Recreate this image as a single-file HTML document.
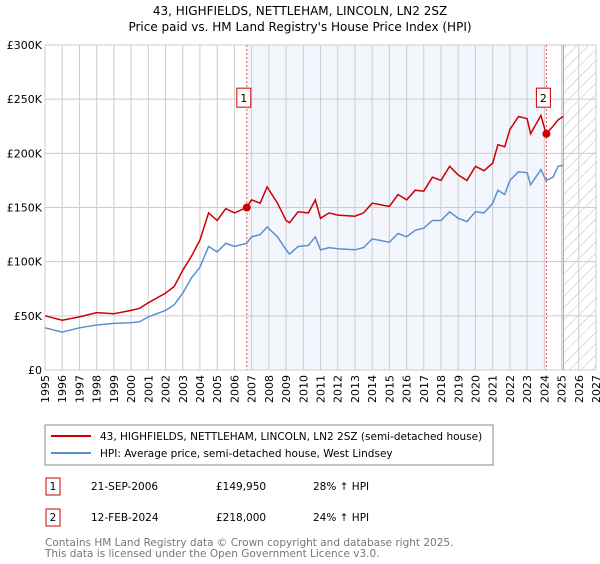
<!DOCTYPE html>
<html><head><meta charset="utf-8"><style>
body{margin:0;background:#fff;font-family:"DejaVu Sans","Liberation Sans",sans-serif;}
svg text{font-family:"DejaVu Sans","Liberation Sans",sans-serif;}
</style></head><body>
<svg width="600" height="560" id="c">
<text x="300" y="15" font-size="12" text-anchor="middle">43, HIGHFIELDS, NETTLEHAM, LINCOLN, LN2 2SZ</text>
<text x="300" y="31" font-size="12" text-anchor="middle">Price paid vs. HM Land Registry's House Price Index (HPI)</text>
<defs><pattern id="h" width="8" height="8" patternUnits="userSpaceOnUse" patternTransform="rotate(45)"><line x1="0" y1="0" x2="0" y2="8" stroke="#bbb" stroke-width="1"/></pattern></defs>
<g id="plot"></g>
<rect x="45" y="425" width="448" height="40" fill="#fff" stroke="#888"/>
<line x1="51" y1="436" x2="91" y2="436" stroke="#cc0000" stroke-width="2"/>
<text x="100" y="440" font-size="10.5">43, HIGHFIELDS, NETTLEHAM, LINCOLN, LN2 2SZ (semi-detached house)</text>
<line x1="51" y1="453" x2="91" y2="453" stroke="#5b8fd4" stroke-width="2"/>
<text x="100" y="457" font-size="10.5">HPI: Average price, semi-detached house, West Lindsey</text>
<g font-size="10.5">
<rect x="46" y="478" width="14" height="17" fill="#fff" stroke="#cc0000"/><text x="53" y="490" text-anchor="middle">1</text>
<text x="91" y="490">21-SEP-2006</text><text x="216" y="490">£149,950</text><text x="313" y="490">28% ↑ HPI</text>
<rect x="46" y="509" width="14" height="17" fill="#fff" stroke="#cc0000"/><text x="53" y="521" text-anchor="middle">2</text>
<text x="91" y="521">12-FEB-2024</text><text x="216" y="521">£218,000</text><text x="313" y="521">24% ↑ HPI</text>
</g>
<text x="45" y="546" font-size="10.5" fill="#777">Contains HM Land Registry data © Crown copyright and database right 2025.</text>
<text x="45" y="557" font-size="10.5" fill="#777">This data is licensed under the Open Government Licence v3.0.</text>
</svg>
<script>
const years=[1995,1996,1997,1998,1999,2000,2000.5,2001,2002,2002.5,2003,2003.5,2004,2004.5,2005,2005.5,2006,2006.7,2007,2007.5,2007.9,2008.5,2009,2009.2,2009.7,2010.3,2010.7,2011,2011.5,2012,2013,2013.5,2014,2015,2015.5,2016,2016.5,2017,2017.5,2018,2018.5,2019,2019.5,2020,2020.5,2021,2021.3,2021.7,2022,2022.5,2023,2023.2,2023.8,2024.1,2024.5,2024.8,2025.1];
const hpi=[39,35,39,41.5,43,43.7,44.6,49,55,60,71,85,95,114,109,117,114,117,123,125,132,123,111,107,114,115,123,111,113,112,111,113,121,118,126,123,129,131,138,138,146,140,137,146,145,154,166,162,175,183,182,171,185,175,178,188,189];
const price=[50,46,49,53,52,55,57,62,71,77,92,105,120,145,138,149,145,150,157,154,169,154,138,136,146,145,157,140,145,143,142,145,154,151,162,157,166,165,178,175,188,180,175,188,184,191,208,206,222,234,232,218,235,218,225,231,234];
const yTicks=[0,50,100,150,200,250,300];
const yTickLabels=["£0","£50K","£100K","£150K","£200K","£250K","£300K"];
const xTicks=[1995,1996,1997,1998,1999,2000,2001,2002,2003,2004,2005,2006,2007,2008,2009,2010,2011,2012,2013,2014,2015,2016,2017,2018,2019,2020,2021,2022,2023,2024,2025,2026,2027];
const sales=[{t:2006.72,v:149.95,n:"1"},{t:2024.12,v:218,n:"2"}];
const L=45,R=596,T=45,B=370,x0=1995,x1=2027,yMax=300,dataEnd=2025.1;
const X=t=>L+(t-x0)/(x1-x0)*(R-L), Y=v=>B-v/yMax*(B-T);
const g=document.getElementById('plot'),NS="http://www.w3.org/2000/svg";
function mk(tag,a,name){const e=document.createElementNS(NS,tag);for(const k in a)e.setAttribute(k,a[k]);


g.appendChild(e);return e;}
mk('rect',{x:X(sales[0].t),y:T,width:X(sales[1].t)-X(sales[0].t),height:B-T,fill:"#f3f6fd"},'ownership-shade');
mk('rect',{x:X(dataEnd),y:T,width:R-X(dataEnd),height:B-T,fill:"url(#h)"},'forecast-hatch');
xTicks.forEach(t=>{mk('line',{x1:X(t),x2:X(t),y1:T,y2:B,stroke:"#ccc"},'x-gridline');
const xx=X(t)+4,yy=B+5;
const tx=mk('text',{x:xx,y:yy,"font-size":"11","text-anchor":"end",transform:`rotate(-90 ${xx} ${yy})`},'x-tick-label');tx.textContent=t;});
yTicks.forEach((v,i)=>{mk('line',{x1:L,x2:R,y1:Y(v),y2:Y(v),stroke:"#ccc"},'y-gridline');
const tx=mk('text',{x:L-3,y:Y(v)+4,"font-size":"11","text-anchor":"end"},'y-tick-label');tx.textContent=yTickLabels[i];});
mk('line',{x1:X(dataEnd),x2:X(dataEnd),y1:T,y2:B,stroke:"#999"},'data-end-line');
const pts=a=>a.map((v,i)=>X(years[i]).toFixed(1)+","+Y(v).toFixed(1)).join(" ");
mk('polyline',{points:pts(hpi),fill:"none",stroke:"#5b8fd4","stroke-width":"1.5"},'hpi-line');
mk('polyline',{points:pts(price),fill:"none",stroke:"#cc0000","stroke-width":"1.5"},'price-line');
sales.forEach(s=>{mk('line',{x1:X(s.t),x2:X(s.t),y1:T,y2:B,stroke:"#e55","stroke-dasharray":"2,2"},'sale-marker-line');
mk('circle',{cx:X(s.t),cy:Y(s.v),r:4,fill:"#cc0000"},'sale-point');
mk('rect',{x:X(s.t)-10,y:Y(250)-11,width:14,height:19,fill:"#fff",stroke:"#cc0000"},'sale-label-box');
const tx=mk('text',{x:X(s.t)-3,y:Y(250)+3,"font-size":"11","text-anchor":"middle"},'sale-label');tx.textContent=s.n;});
</script>
</body></html>
